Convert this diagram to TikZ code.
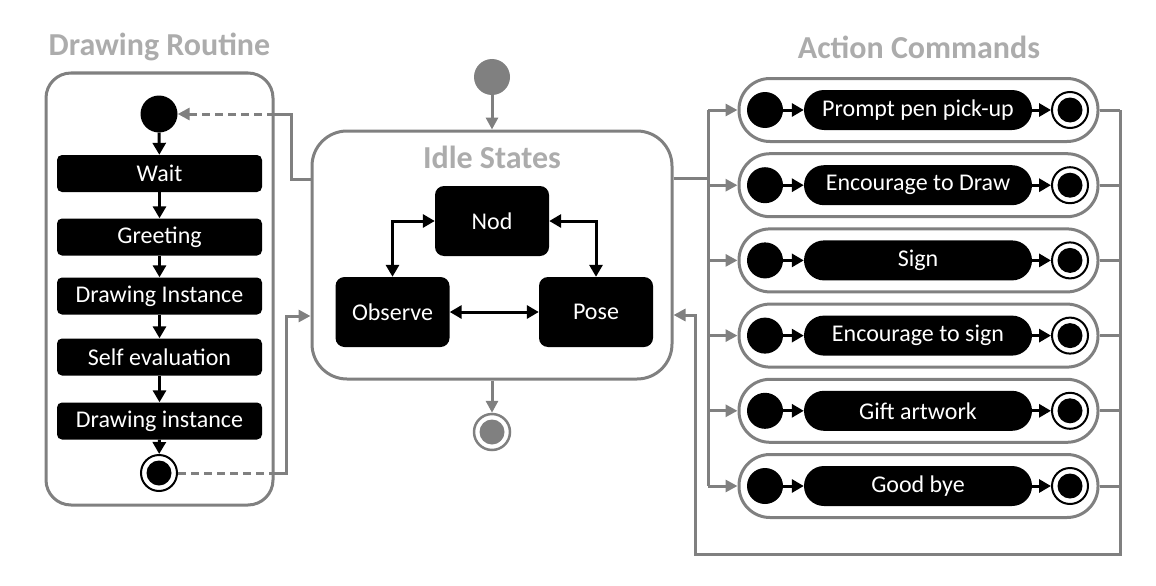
\documentclass[tikz,border=0pt]{standalone}
\usepackage{fontspec}
\setmainfont{Carlito}
\usepackage{xcolor}
\usetikzlibrary{arrows.meta}

\begin{document}
\begin{tikzpicture}[x=1pt,y=-1pt,
    txt/.style={font=\fontsize{24}{26}\selectfont},
    ttl/.style={text=gray!65,font=\fontsize{32}{34}\selectfont\bfseries},
    grp/.style={draw=gray,line width=3pt,fill=white},
    blk/.style={txt,fill=black,text=white,inner sep=0pt},
    stepbox/.style={blk,rounded corners=5pt,minimum width=205pt,minimum height=37pt},
    idlebox/.style={blk,rounded corners=9pt,minimum width=114pt,minimum height=70pt},
    pill/.style={blk,rounded corners=20pt,minimum width=228pt,minimum height=40pt},
    inist/.style={circle,fill=black,minimum size=37pt,inner sep=0pt},
    endst/.style={circle,draw=black,fill=white,line width=2pt,minimum size=36pt,inner sep=0pt,
      path picture={\fill[black] (path picture bounding box.center) circle (12.5pt);}},
    barr/.style={line width=3pt,-{Triangle[length=12pt,width=13pt]}},
    garr/.style={draw=gray,line width=3pt,-{Triangle[length=12pt,width=12pt]}},
    gline/.style={draw=gray,line width=3pt},
    gdash/.style={gline,dash pattern=on 8pt off 5pt}]
  \useasboundingbox (0,0) rectangle (1156,586);

  \node[ttl] (rtitle) at (159.5,47) {Drawing Routine};
  \node[grp,rounded corners=25pt,minimum width=227pt,minimum height=432pt] (rbox) at (159.5,289) {};
  \node[inist] (rini) at (159,114) {};
  \node[stepbox] (wait) at (159.5,173.5) {Wait};
  \node[stepbox] (greet) at (159.5,237) {Greeting};
  \node[stepbox] (draw1) at (159.5,296) {Drawing Instance};
  \node[stepbox] (selfev) at (159.5,357) {Self evaluation};
  \node[stepbox] (draw2) at (159.5,421) {Drawing instance};
  \node[endst] (rfin) at (159,473) {};
  \draw[barr] (rini) -- (wait);
  \draw[barr] (wait) -- (greet);
  \draw[barr] (greet) -- (draw1);
  \draw[barr] (draw1) -- (selfev);
  \draw[barr] (selfev) -- (draw2);
  \draw[barr] (draw2) -- (rfin);

  \node[grp,rounded corners=35pt,minimum width=360pt,minimum height=248pt] (idle) at (492,255) {};
  \node[ttl] (ititle) at (492,157) {Idle States};
  \node[circle,fill=gray,minimum size=36pt,inner sep=0pt] (istart) at (492,77) {};
  \node[circle,draw=gray,fill=white,line width=2.5pt,minimum size=36pt,inner sep=0pt,
    path picture={\fill[gray] (path picture bounding box.center) circle (12.5pt);}] (iend) at (492,432) {};
  \node[idlebox] (nod) at (492,221) {Nod};
  \node[idlebox] (obs) at (392.5,312) {Observe};
  \node[idlebox] (pose) at (596,312) {Pose};
  \draw[barr,{Triangle[length=12pt,width=13pt]}-{Triangle[length=12pt,width=13pt]}] (nod) -| (obs);
  \draw[barr,{Triangle[length=12pt,width=13pt]}-{Triangle[length=12pt,width=13pt]}] (nod) -| (pose);
  \draw[barr,{Triangle[length=12pt,width=13pt]}-{Triangle[length=12pt,width=13pt]}] (obs) -- (pose);
  \draw[garr] (istart) -- (idle);
  \draw[garr] (idle) -- (iend);

  \draw[gline] ([yshift=76pt]idle.west) -- ++(-19,0) |- (rbox.east |- rini);
  \draw[gdash,-{Triangle[length=12pt,width=12pt]}] (rbox.east |- rini) -- (rini);
  \draw[gdash] (rfin) -- (rbox.east |- rfin);
  \draw[garr] (rbox.east |- rfin) -- ++(12,0) |- ([yshift=-61pt]idle.west);

  \node[ttl] (atitle) at (919,47) {Action Commands};
  \coordinate (trk) at (708,0);
  \coordinate (rt) at (1120,0);
  \foreach \lbl [count=\i] in {Prompt pen pick-up,Encourage to Draw,Sign,Encourage to sign,Gift artwork,Good bye} {
    \node[grp,rounded corners=31pt,minimum width=359pt,minimum height=63pt] (act\i) at (918.5,{110+75.2*(\i-1)}) {};
    \node[inist,minimum size=36pt] (s\i) at (765,{110+75.2*(\i-1)}) {};
    \node[pill] (a\i) at (918,{110+75.2*(\i-1)}) {\lbl};
    \node[endst] (f\i) at (1070,{110+75.2*(\i-1)}) {};
    \draw[barr] (s\i) -- (a\i);
    \draw[barr] (a\i) -- (f\i);
    \draw[garr] (trk |- act\i) -- (act\i.west);
    \draw[gline] (act\i.east) -- (rt |- act\i);
  }
  \draw[gline] ([yshift=77pt]idle.east) -- ++(36,0);
  \draw[gline] (trk |- act1) -- (trk |- act6);
  \coordinate (rb) at (1120,554);
  \coordinate (lb) at (695,554);
  \draw[garr] (rt |- act1) -- (rb) -- (lb) |- ([yshift=-60pt]idle.east);
\end{tikzpicture}
\end{document}
